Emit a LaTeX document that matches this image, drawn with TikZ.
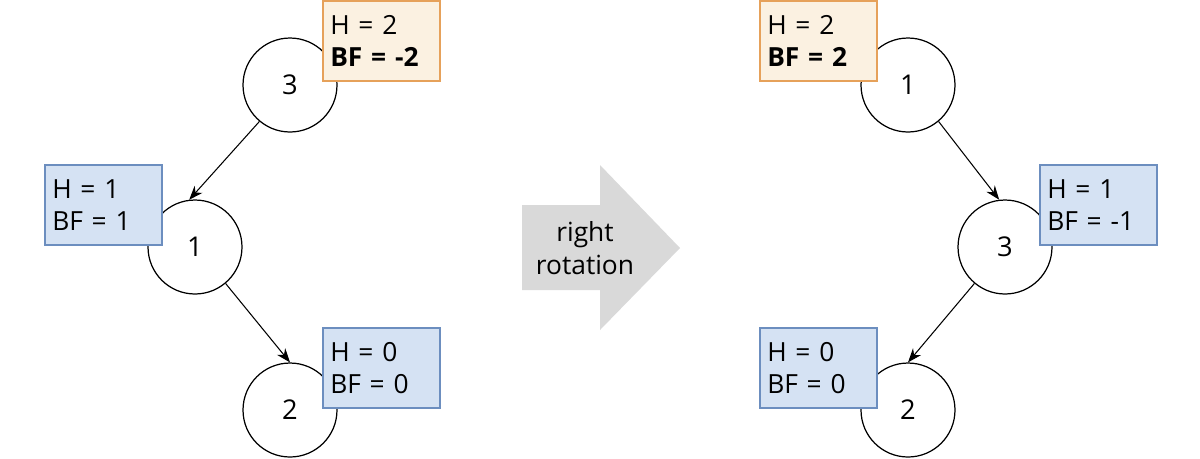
\documentclass[tikz,border=0pt]{standalone}
\usepackage{fontspec}
\setmainfont{Open Sans}
\usetikzlibrary{arrows.meta}
\definecolor{boxblue}{HTML}{D5E2F3}
\definecolor{lineblue}{HTML}{6C8EBF}
\definecolor{boxorange}{HTML}{FBF1E1}
\definecolor{lineorange}{HTML}{E6A15A}
\tikzset{
    vertex/.style={circle,draw,line width=0.7pt,fill=white,minimum size=1.88cm,inner sep=0pt,font=\fontsize{15.5}{18}\selectfont},
    info/.style={draw=#1,line width=0.7pt,minimum width=2.34cm,minimum height=1.6cm,
        text width=2.05cm,align=left,inner sep=0pt,font=\fontsize{15}{18.5}\selectfont},
    edge/.style={-{Stealth[length=8pt,width=6pt]},line width=0.6pt}
}
\begin{document}
\begin{tikzpicture}[x=0.02cm,y=-0.02cm]
    \useasboundingbox (0,0) rectangle (1200,458);

    % before rotation
    \node[vertex] (l3) at (290,85) {3};
    \node[vertex] (l1) at (195,247) {1};
    \node[vertex] (l2) at (290,410) {2};
    \draw[edge] (l3.230) -- (l1.97);
    \draw[edge] (l1.-50) -- (l2.north);
    \node[info=lineorange,fill=boxorange] (il3) at (381.5,41) {H = 2\\\textbf{BF = -2}};
    \node[info=lineblue,fill=boxblue] (il1) at (103.5,205) {H = 1\\BF = 1};
    \node[info=lineblue,fill=boxblue] (il2) at (381.5,368) {H = 0\\BF = 0};

    % rotation arrow
    \fill[black!15] (522,205) -- (600,205) -- (600,165) -- (680,248)
        -- (600,330) -- (600,290) -- (522,290) -- cycle;
    \node[align=center,font=\fontsize{15}{18.5}\selectfont] (rot) at (585,248) {right\\rotation};

    % after rotation
    \node[vertex] (r1) at (908,85) {1};
    \node[vertex] (r3) at (1005,247) {3};
    \node[vertex] (r2) at (908,410) {2};
    \draw[edge] (r1.-50) -- (r3.97);
    \draw[edge] (r3.230) -- (r2.north);
    \node[info=lineorange,fill=boxorange] (ir1) at (818.5,41) {H = 2\\\textbf{BF = 2}};
    \node[info=lineblue,fill=boxblue] (ir3) at (1098.5,205) {H = 1\\BF = -1};
    \node[info=lineblue,fill=boxblue] (ir2) at (818.5,368) {H = 0\\BF = 0};
\end{tikzpicture}
\end{document}
